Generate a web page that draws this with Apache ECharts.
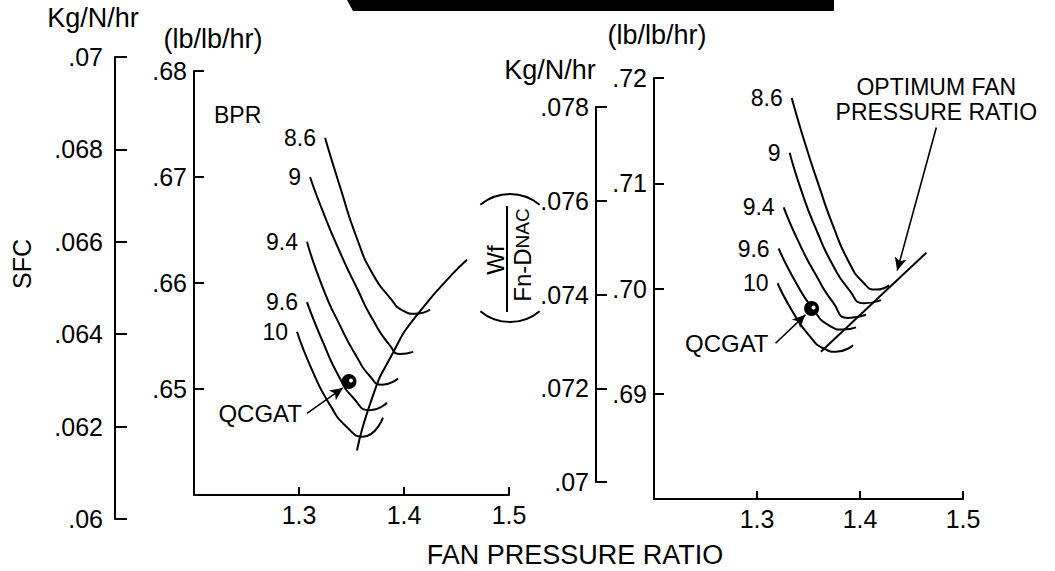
<!DOCTYPE html>
<html>
<head>
<meta charset="utf-8">
<script src="https://cdn.jsdelivr.net/npm/echarts@6/dist/echarts.min.js"></script>
<style>
html,body{margin:0;padding:0;background:#fff;}
#chart{width:1055px;height:571px;}
</style>
</head>
<body>
<div id="chart"></div>
<script>
// ---------------- data ----------------
const FONT = "'Liberation Sans', Arial, Helvetica, sans-serif";
const fanPressureRange = [1.2, 1.5];
const fanPressureStep = 0.1;
const bprNames = ['8.6', '9', '9.4', '9.6', '10'];

// Left panel: SFC (lb/lb/hr) vs fan pressure ratio
const leftSfcRange = [0.64, 0.68];
const leftSfcKgRange = [0.06, 0.07];
const leftBpr86 = [[1.3248,0.6737],[1.3390,0.6691],[1.3552,0.6642],[1.3705,0.6608],[1.3867,0.6586],[1.3990,0.6574],[1.4105,0.6571],[1.4248,0.6575]];
const leftBpr9  = [[1.3105,0.6700],[1.3229,0.6667],[1.3390,0.6629],[1.3552,0.6595],[1.3705,0.6565],[1.3867,0.6541],[1.3962,0.6533],[1.4086,0.6535]];
const leftBpr94 = [[1.3076,0.6639],[1.3229,0.6595],[1.3390,0.6560],[1.3552,0.6530],[1.3676,0.6512],[1.3790,0.6504],[1.3943,0.6510]];
const leftBpr96 = [[1.3076,0.6582],[1.3229,0.6544],[1.3390,0.6510],[1.3514,0.6492],[1.3676,0.6480],[1.3838,0.6487]];
const leftBpr10 = [[1.2981,0.6554],[1.3133,0.6516],[1.3295,0.6485],[1.3457,0.6464],[1.3610,0.6455],[1.3800,0.6473]];
const leftOptimum = [[1.3552,0.6442],[1.3705,0.6494],[1.3867,0.6529],[1.4124,0.6570],[1.4600,0.6622]];
const leftQcgat = [1.3476, 0.6507];
const leftQcgatArrow = [[1.3076,0.6477],[1.3419,0.6501]];

// Right panel: Wf/(Fn-DNAC) (lb/lb/hr) vs fan pressure ratio
const rightSfcRange = [0.68, 0.72];
const rightSfcKgRange = [0.07, 0.078];
const rightBpr86 = [[1.3337,0.7181],[1.3463,0.7139],[1.3600,0.7098],[1.3737,0.7060],[1.3893,0.7025],[1.4029,0.7006],[1.4156,0.6999],[1.4283,0.7003]];
const rightBpr9  = [[1.3317,0.7129],[1.3434,0.7092],[1.3571,0.7057],[1.3737,0.7022],[1.3893,0.6999],[1.4039,0.6986],[1.4205,0.6989]];
const rightBpr94 = [[1.3259,0.7077],[1.3405,0.7044],[1.3571,0.7013],[1.3737,0.6987],[1.3883,0.6972],[1.4059,0.6975]];
const rightBpr96 = [[1.3210,0.7038],[1.3376,0.7006],[1.3541,0.6981],[1.3698,0.6965],[1.3834,0.6961],[1.3961,0.6963]];
const rightBpr10 = [[1.3200,0.7005],[1.3346,0.6978],[1.3502,0.6956],[1.3649,0.6943],[1.3766,0.6940],[1.3932,0.6946]];
const rightOptimum = [[1.3620,0.6940],[1.4644,0.7034]];
const rightQcgat = [1.3530, 0.6981];
const rightQcgatArrow = [[1.3180,0.6948],[1.3470,0.6975]];
const rightOptimumArrow = [[1.4741,0.7153],[1.4361,0.7017]];

const leftCurves = [leftBpr86, leftBpr9, leftBpr94, leftBpr96, leftBpr10];
const rightCurves = [rightBpr86, rightBpr9, rightBpr94, rightBpr96, rightBpr10];

// ---------------- helpers ----------------
const BLACK = '#000';
const txt = (size) => ({ color: BLACK, fontFamily: FONT, fontSize: size, textBorderWidth: 0, opacity: 1 });
const fmt2 = v => v.toFixed(2).replace(/^0/, '');
const fmt3 = v => String(parseFloat(v.toFixed(3))).replace(/^0/, '');

function mainX(grid) {
  return {
    gridIndex: grid, type: 'value', min: fanPressureRange[0], max: fanPressureRange[1], interval: fanPressureStep,
    axisLine: { show: true, onZero: false, lineStyle: { color: BLACK, width: 2 } },
    axisTick: { show: true, inside: true, length: 8, lineStyle: { color: BLACK, width: 2 } },
    axisLabel: Object.assign({ showMinLabel: false, margin: 7, formatter: v => v.toFixed(1) }, txt(25)),
    splitLine: { show: false }
  };
}
function hiddenX(grid) {
  return { gridIndex: grid, type: 'value', min: 0, max: 1, show: false };
}
function yAx(grid, range, interval, fmt, tickLen, margin, showMin) {
  return {
    gridIndex: grid, type: 'value', min: range[0], max: range[1], interval: interval, position: 'left',
    axisLine: { show: true, onZero: false, lineStyle: { color: BLACK, width: 2 } },
    axisTick: { show: true, inside: true, length: tickLen, lineStyle: { color: BLACK, width: 2 } },
    axisLabel: Object.assign({ showMinLabel: showMin, margin: margin, formatter: fmt }, txt(25)),
    splitLine: { show: false }
  };
}

function curveSeries(data, xi) {
  return {
    type: 'line', xAxisIndex: xi, yAxisIndex: xi, data: data, smooth: 0.6,
    showSymbol: false, silent: true, animation: false,
    lineStyle: { color: BLACK, width: 2 }
  };
}
function labelSeries(curves, xi) {
  return {
    type: 'scatter', xAxisIndex: xi, yAxisIndex: xi, symbolSize: 0, silent: true, animation: false,
    itemStyle: { opacity: 1 },
    data: curves.map((c, i) => ({ value: c[0], name: bprNames[i] })),
    label: Object.assign({ show: true, position: 'left', distance: 9, formatter: '{b}' }, txt(23))
  };
}
function dotSeries(pt, xi) {
  return [{
    type: 'scatter', xAxisIndex: xi, yAxisIndex: xi, symbolSize: 15, silent: true, animation: false,
    itemStyle: { color: BLACK, opacity: 1 }, data: [pt], z: 5
  }, {
    type: 'scatter', xAxisIndex: xi, yAxisIndex: xi, symbolSize: 4, silent: true, animation: false,
    symbolOffset: [2, -1], itemStyle: { color: '#fff', opacity: 1 }, data: [pt], z: 6
  }];
}
function arrowSeries(arrow, xi, text, pos, size, dist, lh) {
  return [{
    type: 'line', xAxisIndex: xi, yAxisIndex: xi, data: arrow, showSymbol: false, silent: true, animation: false,
    lineStyle: { opacity: 0 },
    markLine: {
      silent: true, animation: false, symbol: ['none', 'arrow'], symbolSize: [9, 13],
      lineStyle: { color: BLACK, width: 1.6, type: 'solid' }, label: { show: false },
      data: [[{ coord: arrow[0] }, { coord: arrow[1] }]]
    }
  }, {
    type: 'scatter', xAxisIndex: xi, yAxisIndex: xi, symbolSize: 0, silent: true, animation: false,
    itemStyle: { opacity: 1 },
    data: [{ value: arrow[0], name: text }],
    label: Object.assign({ show: true, position: pos, distance: dist, formatter: '{b}', align: 'center', lineHeight: lh }, txt(size),
      pos === 'left' ? { align: 'right' } : {})
  }];
}

const series = [];
leftCurves.forEach(c => series.push(curveSeries(c, 0)));
series.push(curveSeries(leftOptimum, 0));
series.push(labelSeries(leftCurves, 0));
series.push(...dotSeries(leftQcgat, 0));
series.push(...arrowSeries(leftQcgatArrow, 0, 'QCGAT', 'left', 24, 5, 24));

rightCurves.forEach(c => series.push(curveSeries(c, 2)));
series.push(Object.assign(curveSeries(rightOptimum, 2), { smooth: false }));
series.push(labelSeries(rightCurves, 2));
series.push(...dotSeries(rightQcgat, 2));
series.push(...arrowSeries(rightQcgatArrow, 2, 'QCGAT', 'left', 24, 7, 24));
series.push(...arrowSeries(rightOptimumArrow, 2, 'OPTIMUM FAN\nPRESSURE RATIO', 'top', 23, 3, 25));

const option = {
  backgroundColor: '#fff',
  animation: false,
  grid: [
    { left: 194, top: 71, width: 315, height: 424 },
    { left: 115, top: 57, width: 20, height: 462 },
    { left: 654, top: 78, width: 309, height: 421 },
    { left: 596, top: 107, width: 20, height: 375 }
  ],
  xAxis: [mainX(0), hiddenX(1), mainX(2), hiddenX(3)],
  yAxis: [
    yAx(0, leftSfcRange, 0.01, fmt2, 10, 7, false),
    yAx(1, leftSfcKgRange, 0.002, fmt3, 12, 12, true),
    yAx(2, rightSfcRange, 0.01, fmt2, 10, 7, false),
    yAx(3, rightSfcKgRange, 0.002, fmt3, 11, 7, true)
  ],
  series: series,
  graphic: [
    { type: 'polygon', shape: { points: [[347, 0], [834, 0], [834, 11], [353, 11]] }, style: { fill: BLACK }, silent: true },
    { type: 'text', x: 93, y: 18, style: { text: 'Kg/N/hr', align: 'center', verticalAlign: 'middle', fill: BLACK, font: '27px ' + FONT } },
    { type: 'text', x: 213, y: 39, style: { text: '(lb/lb/hr)', align: 'center', verticalAlign: 'middle', fill: BLACK, font: '27px ' + FONT } },
    { type: 'text', x: 550, y: 70, style: { text: 'Kg/N/hr', align: 'center', verticalAlign: 'middle', fill: BLACK, font: '27px ' + FONT } },
    { type: 'text', x: 657, y: 35, style: { text: '(lb/lb/hr)', align: 'center', verticalAlign: 'middle', fill: BLACK, font: '27px ' + FONT } },
    { type: 'text', x: 214, y: 115, style: { text: 'BPR', align: 'left', verticalAlign: 'middle', fill: BLACK, font: '23px ' + FONT } },
    { type: 'text', x: 22, y: 264, rotation: Math.PI / 2, style: { text: 'SFC', align: 'center', verticalAlign: 'middle', fill: BLACK, font: '25px ' + FONT } },
    { type: 'text', x: 575, y: 555, style: { text: 'FAN PRESSURE RATIO', align: 'center', verticalAlign: 'middle', fill: BLACK, font: '27px ' + FONT } },
    // Wf / (Fn - DNAC) rotated fraction
    { type: 'text', x: 495, y: 260, rotation: Math.PI / 2, style: { text: 'Wf', align: 'center', verticalAlign: 'middle', fill: BLACK, font: '24px ' + FONT } },
    { type: 'line', shape: { x1: 507, y1: 206, x2: 507, y2: 312 }, style: { stroke: BLACK, lineWidth: 2 } },
    { type: 'text', x: 522, y: 255, rotation: Math.PI / 2, style: {
        text: '{a|Fn-D}{b|NAC}', align: 'center', verticalAlign: 'middle',
        rich: { a: { fontSize: 24, fontFamily: FONT, fill: BLACK, color: BLACK }, b: { fontSize: 19, fontFamily: FONT, fill: BLACK, color: BLACK } } } },
    { type: 'arc', shape: { cx: 510, cy: 240, r: 46, startAngle: -Math.PI / 2 - 0.7, endAngle: -Math.PI / 2 + 0.7, clockwise: true }, style: { stroke: BLACK, lineWidth: 2, fill: 'none' } },
    { type: 'arc', shape: { cx: 510, cy: 276, r: 46, startAngle: Math.PI / 2 - 0.7, endAngle: Math.PI / 2 + 0.7, clockwise: true }, style: { stroke: BLACK, lineWidth: 2, fill: 'none' } }
  ]
};

const chart = echarts.init(document.getElementById('chart'), null, { renderer: 'svg' });
chart.setOption(option);
</script>
</body>
</html>
